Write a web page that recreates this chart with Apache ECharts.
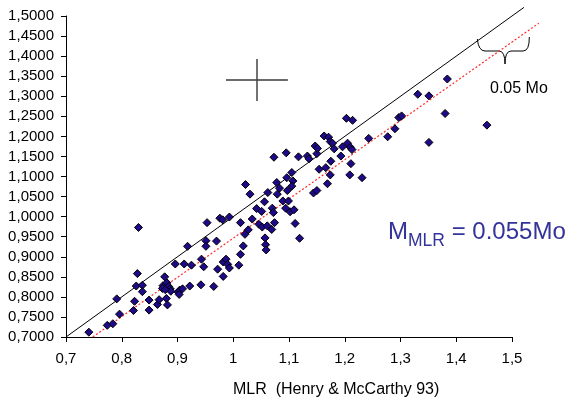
<!DOCTYPE html>
<html>
<head>
<meta charset="utf-8">
<script src="https://cdn.jsdelivr.net/npm/echarts@6/dist/echarts.min.js"></script>
<style>html,body{margin:0;padding:0;background:#fff}#c{width:574px;height:399px}</style>
</head>
<body>
<div id="c"></div>
<script>
// MLR (Henry & McCarthy 93) vs Mo
const mlrX = [0.741,0.774,0.784,0.796,0.791,0.821,0.823,0.826,0.828,0.830,0.837,0.837,0.849,0.849,0.864,0.867,0.877,0.874,0.881,0.873,0.884,0.887,0.888,0.878,0.880,0.882,0.896,0.901,0.904,0.909,0.903,0.912,0.918,0.925,0.922,0.943,0.947,0.942,0.951,0.951,0.953,0.965,0.970,0.972,0.976,0.981,0.993,0.982,0.987,0.990,0.993,0.982,1.010,1.013,1.013,1.018,1.027,1.021,1.022,1.030,1.034,1.042,1.051,1.046,1.052,1.061,1.069,1.056,1.062,1.070,1.072,1.074,1.057,1.058,1.059,1.073,1.078,1.079,1.083,1.089,1.095,1.096,1.097,1.099,1.094,1.102,1.109,1.105,1.107,1.105,1.111,1.119,1.117,1.133,1.136,1.144,1.150,1.147,1.150,1.151,1.154,1.166,1.163,1.171,1.174,1.178,1.181,1.175,1.174,1.169,1.193,1.196,1.205,1.210,1.213,1.211,1.209,1.231,1.203,1.214,1.243,1.277,1.290,1.297,1.302,1.331,1.351,1.351,1.380,1.384,1.455];
const moY = [0.712,0.729,0.733,0.757,0.795,0.766,0.789,0.827,0.858,0.973,0.829,0.813,0.792,0.767,0.781,0.793,0.850,0.828,0.835,0.821,0.826,0.820,0.814,0.818,0.796,0.780,0.882,0.812,0.817,0.820,0.806,0.882,0.926,0.879,0.827,0.894,0.875,0.830,0.940,0.926,0.985,0.826,0.939,0.869,0.996,0.992,0.999,0.887,0.894,0.881,0.872,0.851,0.879,0.985,0.906,0.927,0.967,0.956,1.080,1.056,0.994,1.020,1.013,0.981,0.974,0.977,0.968,1.037,1.060,1.021,1.010,0.985,0.947,0.930,0.917,1.148,1.085,1.056,1.071,1.039,1.159,1.097,1.065,1.039,1.021,1.012,1.017,1.110,1.089,1.076,0.983,0.946,1.149,1.151,1.144,1.059,1.065,1.176,1.157,1.170,1.118,1.122,1.201,1.198,1.187,1.183,1.169,1.138,1.104,1.082,1.151,1.174,1.183,1.173,1.167,1.132,1.104,1.097,1.245,1.240,1.195,1.199,1.219,1.247,1.251,1.305,1.301,1.185,1.257,1.343,1.228];
const identityLine = [[0.7, 0.7], [1.5215, 1.5215]];
const offsetLine = [[0.748, 0.70], [1.548, 1.482]];
const crossH = [[0.987, 1.3405], [1.098, 1.3405]];
const crossV = [[1.0426, 1.393], [1.0426, 1.288]];
const xTicks = [0.7, 0.8, 0.9, 1.0, 1.1, 1.2, 1.3, 1.4, 1.5];
const yTicks = [0.70,0.75,0.80,0.85,0.90,0.95,1.00,1.05,1.10,1.15,1.20,1.25,1.30,1.35,1.40,1.45,1.50];

const points = mlrX.map((x, i) => [x, moY[i]]);
const font = 'Liberation Sans, Arial, sans-serif';

const chart = echarts.init(document.getElementById('c'), null, {renderer: 'canvas'});
chart.setOption({
  animation: false,
  backgroundColor: '#fff',
  grid: {left: 66, right: 62, top: 16, bottom: 62, containLabel: false},
  xAxis: {
    type: 'value', min: xTicks[0], max: xTicks[xTicks.length - 1], interval: 0.1,
    axisLine: {show: true, onZero: false, lineStyle: {color: '#000', width: 1}},
    axisTick: {show: true, length: 5, lineStyle: {color: '#000'}},
    splitLine: {show: false},
    axisLabel: {color: '#000', fontSize: 15, fontFamily: font, margin: 14,
      formatter: v => String(+v.toFixed(1)).replace('.', ',')}
  },
  yAxis: {
    type: 'value', min: yTicks[0], max: yTicks[yTicks.length - 1], interval: 0.05,
    axisLine: {show: true, onZero: false, lineStyle: {color: '#000', width: 1}},
    axisTick: {show: true, length: 5, lineStyle: {color: '#000'}},
    splitLine: {show: false},
    axisLabel: {color: '#000', fontSize: 15, fontFamily: font, margin: 12,
      formatter: v => v.toFixed(4).replace('.', ',')}
  },
  series: [
    {type: 'line', data: crossH, symbol: 'none', silent: true,
      lineStyle: {color: '#6a6a6a', width: 2}},
    {type: 'line', data: crossV, symbol: 'none', silent: true,
      lineStyle: {color: '#444', width: 1.5}},
    {type: 'scatter', data: points, symbol: 'diamond', symbolSize: 8, z: 3,
      itemStyle: {color: '#1e0a88', borderColor: '#000', borderWidth: 1, opacity: 1}}
  ]
});

// reference lines extend past the plot area, so they are drawn through the chart's own scales
const px = p => chart.convertToPixel({gridIndex: 0}, p);
const a1 = px(identityLine[0]), a2 = px(identityLine[1]);
const b1 = px(offsetLine[0]), b2 = px(offsetLine[1]);

chart.setOption({
  graphic: [
    {type: 'line', z: 1, shape: {x1: a1[0], y1: a1[1], x2: a2[0], y2: a2[1]}, style: {stroke: '#000', lineWidth: 1}},
    {type: 'line', z: 1, shape: {x1: b1[0], y1: b1[1], x2: b2[0], y2: b2[1]}, style: {stroke: '#ff2a2a', lineWidth: 1.2, lineDash: [2, 2]}},
    {type: 'bezierCurve', shape: {x1: 477.3, y1: 39, cpx1: 478.5, cpy1: 51, x2: 485, y2: 51}, style: {stroke: '#000', lineWidth: 1, fill: null}},
    {type: 'line', shape: {x1: 485, y1: 51, x2: 499, y2: 51}, style: {stroke: '#000', lineWidth: 1}},
    {type: 'bezierCurve', shape: {x1: 499, y1: 51, cpx1: 505, cpy1: 51, x2: 505, y2: 64}, style: {stroke: '#000', lineWidth: 1, fill: null}},
    {type: 'bezierCurve', shape: {x1: 505, y1: 64, cpx1: 505, cpy1: 51, x2: 511, y2: 51}, style: {stroke: '#000', lineWidth: 1, fill: null}},
    {type: 'line', shape: {x1: 511, y1: 51, x2: 523, y2: 51}, style: {stroke: '#000', lineWidth: 1}},
    {type: 'bezierCurve', shape: {x1: 523, y1: 51, cpx1: 529.5, cpy1: 51, x2: 529.3, y2: 37}, style: {stroke: '#000', lineWidth: 1, fill: null}},
    {type: 'text', left: 490, top: 81, style: {text: '0.05 Mo', fill: '#000', font: '16px ' + font}},
    {type: 'text', left: 233, top: 382, style: {text: 'MLR  (Henry & McCarthy 93)', fill: '#000', font: '16px ' + font}},
    {type: 'text', left: 388, top: 220, style: {text: 'M', fill: '#333399', font: '24px ' + font}},
    {type: 'text', left: 408, top: 232, style: {text: 'MLR', fill: '#333399', font: '17.5px ' + font}},
    {type: 'text', left: 445, top: 220, style: {text: ' = 0.055Mo', fill: '#333399', font: '24px ' + font}}
  ]
});
</script>
</body>
</html>
